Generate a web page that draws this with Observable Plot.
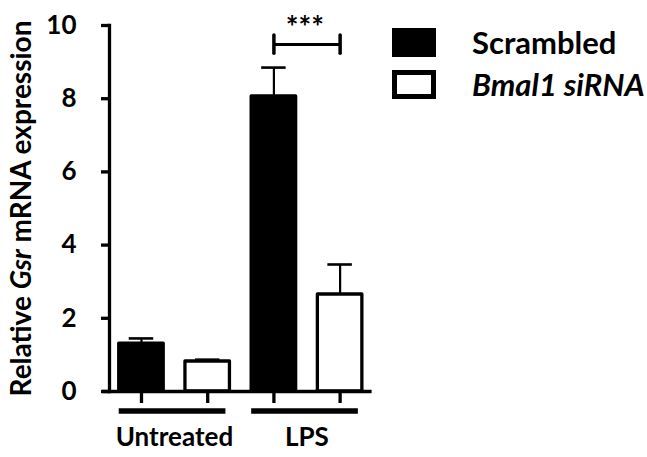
<!DOCTYPE html>
<html>
<head>
<meta charset="utf-8">
<script src="https://cdn.jsdelivr.net/npm/d3@7"></script>
<script src="https://cdn.jsdelivr.net/npm/@observablehq/plot@0.6"></script>
<style>
  body { margin: 0; background: #fff; }
  #chart { position: relative; width: 647px; height: 457px; font-family: Lato, sans-serif; font-weight: bold; color: #000; }
  #legend { position: absolute; left: 392px; top: 28px; }
  .item { position: absolute; left: 0; display: flex; align-items: center; height: 29px; white-space: nowrap; }
  .sw { box-sizing: border-box; width: 44px; height: 29px; border: 5px solid #000; }
  .lab { position: absolute; left: 80px; font-size: 31px; line-height: 1; }
</style>
</head>
<body>
<div id="chart"></div>
<script>
// ---- data ----
const groups = ["Untreated", "LPS"];
const series = ["Scrambled", "Bmal1 siRNA"];
const seriesColors = ["black", "white"];
const scrambledMean = [1.31, 8.06];
const scrambledSem  = [0.14, 0.79];
const bmal1Mean     = [0.82, 2.65];
const bmal1Sem      = [0.05, 0.82];
const yTicks = [0, 2, 4, 6, 8, 10];
const yLabel = "Relative Gsr mRNA expression";
const sigGroup = "LPS";
const sigLabel = "***";
const sigLevel = 9.48;

// ---- tables for the library ----
const keyOf = (g, s) => g + " " + s;
const keys = groups.flatMap(g => series.map(s => keyOf(g, s)));
const rows = groups.flatMap((g, i) => [
  {group: g, series: series[0], key: keyOf(g, series[0]), mean: scrambledMean[i], sem: scrambledSem[i]},
  {group: g, series: series[1], key: keyOf(g, series[1]), mean: bmal1Mean[i], sem: bmal1Sem[i]}
]);
const sig = [{a: keyOf(sigGroup, series[0]), b: keyOf(sigGroup, series[1]), y: sigLevel, label: sigLabel}];
const capHalf = 0.25;

const plot = Plot.plot({
  width: 647,
  height: 457,
  marginLeft: 109,
  marginRight: 275.4,
  marginTop: 25,
  marginBottom: 66,
  style: {fontFamily: "Lato, sans-serif", fontWeight: "bold", fontSize: "25px", color: "black", background: "white", overflow: "visible"},
  x: {type: "band", domain: keys, paddingInner: 0.328, paddingOuter: 0.147, round: false, axis: null},
  y: {domain: [0, 10], axis: null},
  color: {domain: series, range: seriesColors},
  marks: [
    // error bars (upper)
    Plot.ruleX(rows, {x: "key", y1: "mean", y2: d => d.mean + d.sem, stroke: "black", strokeWidth: 2.2}),
    Plot.tickY(rows, {x: "key", y: d => d.mean + d.sem, stroke: "black", strokeWidth: 2.6, insetLeft: 10, insetRight: 10}),
    // bars
    Plot.barY(rows, {x: "key", y: "mean", fill: "series", stroke: "black", strokeWidth: 3.3, strokeLinejoin: "round"}),
    // baseline and y axis line
    Plot.ruleY([0], {stroke: "black", strokeWidth: 3.3, insetLeft: -7}),
    Plot.frame({anchor: "left", stroke: "black", strokeWidth: 3.3}),
    Plot.axisY({ticks: yTicks, tickSize: 8, tickPadding: 25, strokeWidth: 3.3, fontSize: 26,
      label: yLabel, labelAnchor: "center", labelArrow: "none", labelOffset: 98}),
    Plot.axisX({tickSize: 12, strokeWidth: 3.3, tickFormat: () => "", label: null}),
    // group brackets and labels
    Plot.ruleY(groups, {x1: g => keyOf(g, series[0]), x2: g => keyOf(g, series[1]), y: 0, dy: 19.5, stroke: "black", strokeWidth: 5.7, insetRight: 4}),
    Plot.text(groups, {x: g => keyOf(g, series[0]), y: 0, dx: 33, dy: 46, text: d => d, fontSize: 26, fill: "black"}),
    // significance
    Plot.link(sig, {x1: "a", x2: "b", y1: "y", y2: "y", stroke: "black", strokeWidth: 3}),
    Plot.ruleX(sig, {x: "a", y1: d => d.y - capHalf, y2: d => d.y + capHalf, stroke: "black", strokeWidth: 3.5, strokeLinecap: "round"}),
    Plot.ruleX(sig, {x: "b", y1: d => d.y - capHalf, y2: d => d.y + capHalf, stroke: "black", strokeWidth: 3.5, strokeLinecap: "round"}),
    Plot.text(sig, {x: "a", y: "y", dx: 31, dy: -16, text: "label", fontSize: 30, fill: "black"})
  ]
});

// italicise the gene name in the y-axis label
const yl = plot.querySelector('g[aria-label="y-axis label"] text');
if (yl) {
  yl.setAttribute("font-size", "28");
  const parts = yLabel.split("Gsr");
  yl.textContent = "";
  const ns = "http://www.w3.org/2000/svg";
  const t1 = document.createElementNS(ns, "tspan"); t1.textContent = parts[0];
  const t2 = document.createElementNS(ns, "tspan"); t2.textContent = "Gsr"; t2.setAttribute("font-style", "italic");
  const t3 = document.createElementNS(ns, "tspan"); t3.textContent = parts[1];
  yl.append(t1, t2, t3);
}

const chart = document.getElementById("chart");
chart.appendChild(plot);

// legend
const legend = document.createElement("div");
legend.id = "legend";
series.forEach((s, i) => {
  const item = document.createElement("div");
  item.className = "item";
  item.style.top = (i * 42) + "px";
  const sw = document.createElement("span");
  sw.className = "sw";
  sw.style.background = seriesColors[i];
  const lab = document.createElement("span");
  lab.className = "lab";
  lab.textContent = s;
  if (i === 1) lab.style.fontStyle = "italic";
  item.append(sw, lab);
  legend.appendChild(item);
});
chart.appendChild(legend);
</script>
</body>
</html>
